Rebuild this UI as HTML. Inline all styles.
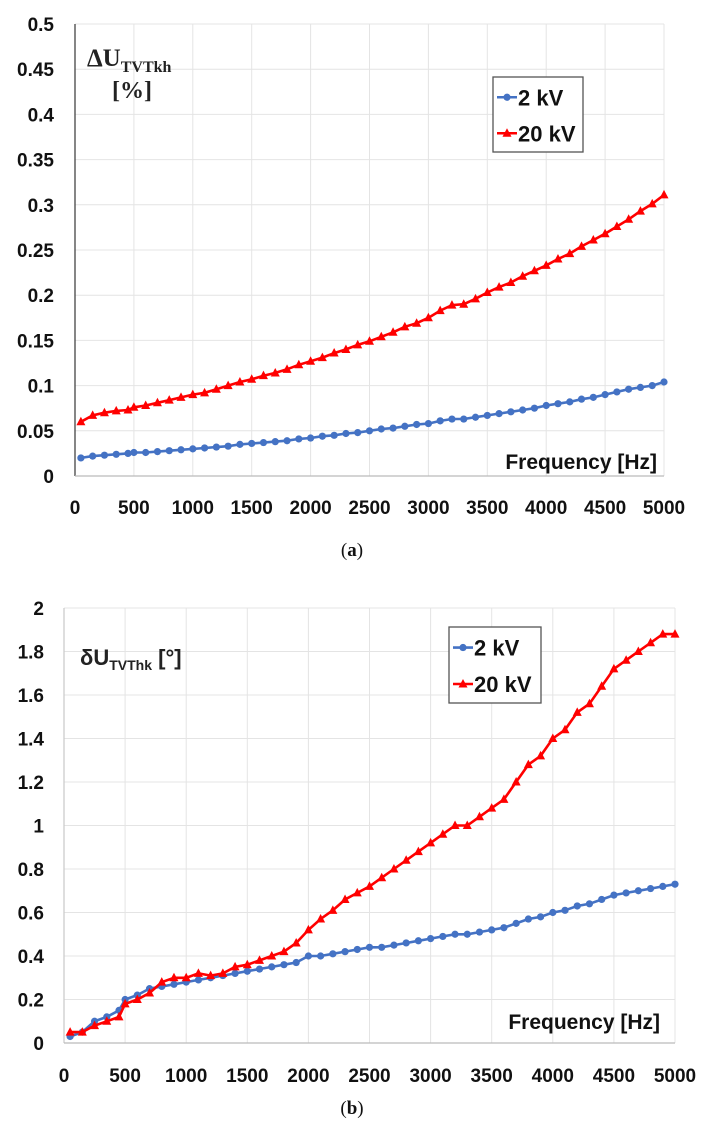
<!DOCTYPE html>
<html><head><meta charset="utf-8">
<style>
html,body{margin:0;padding:0;background:#fff;}
body{width:705px;height:1140px;overflow:hidden;}
svg{display:block;}
</style></head>
<body>
<svg id="chart" width="705" height="1140" xmlns="http://www.w3.org/2000/svg"></svg>
<script>
const freqs = [50,150,250,350,450,500,600,700,800,900,1000,1100,1200,1300,1400,1500,1600,1700,1800,1900,2000,2100,2200,2300,2400,2500,2600,2700,2800,2900,3000,3100,3200,3300,3400,3500,3600,3700,3800,3900,4000,4100,4200,4300,4400,4500,4600,4700,4800,4900,5000];
const aBlue = [0.02,0.022,0.023,0.024,0.025,0.026,0.026,0.027,0.028,0.029,0.030,0.031,0.032,0.033,0.035,0.036,0.037,0.038,0.039,0.041,0.042,0.044,0.045,0.047,0.048,0.050,0.052,0.053,0.055,0.057,0.058,0.061,0.063,0.063,0.065,0.067,0.069,0.071,0.073,0.075,0.078,0.080,0.082,0.085,0.087,0.090,0.093,0.096,0.098,0.1,0.104];
const aRed = [0.06,0.067,0.07,0.072,0.073,0.076,0.078,0.081,0.084,0.087,0.09,0.092,0.096,0.1,0.104,0.107,0.111,0.114,0.118,0.123,0.127,0.131,0.136,0.14,0.145,0.149,0.154,0.159,0.165,0.169,0.175,0.183,0.189,0.19,0.196,0.203,0.209,0.214,0.221,0.227,0.233,0.24,0.246,0.254,0.261,0.268,0.276,0.284,0.293,0.301,0.311];
const bBlue = [0.03,0.05,0.1,0.12,0.15,0.2,0.22,0.25,0.26,0.27,0.28,0.29,0.3,0.31,0.32,0.33,0.34,0.35,0.36,0.37,0.4,0.4,0.41,0.42,0.43,0.44,0.44,0.45,0.46,0.47,0.48,0.49,0.5,0.5,0.51,0.52,0.53,0.55,0.57,0.58,0.6,0.61,0.63,0.64,0.66,0.68,0.69,0.7,0.71,0.72,0.73];
const bRed = [0.05,0.05,0.08,0.1,0.12,0.18,0.2,0.23,0.28,0.3,0.3,0.32,0.31,0.32,0.35,0.36,0.38,0.4,0.42,0.46,0.52,0.57,0.61,0.66,0.69,0.72,0.76,0.8,0.84,0.88,0.92,0.96,1.0,1.0,1.04,1.08,1.12,1.2,1.28,1.32,1.4,1.44,1.52,1.56,1.64,1.72,1.76,1.8,1.84,1.88,1.88];
const xTicks = [0,500,1000,1500,2000,2500,3000,3500,4000,4500,5000];
const aYTicks = [0,0.05,0.1,0.15,0.2,0.25,0.3,0.35,0.4,0.45,0.5];
const aYLabels = ["0","0.05","0.1","0.15","0.2","0.25","0.3","0.35","0.4","0.45","0.5"];
const bYTicks = [0,0.2,0.4,0.6,0.8,1,1.2,1.4,1.6,1.8,2];
const bYLabels = ["0","0.2","0.4","0.6","0.8","1","1.2","1.4","1.6","1.8","2"];
const seriesNames = ["2 kV","20 kV"];

const NS="http://www.w3.org/2000/svg";
const svg=document.getElementById('chart');
function mk(tag,attrs,parent,text){const e=document.createElementNS(NS,tag);for(const k in attrs)e.setAttribute(k,attrs[k]);if(text!==undefined)e.textContent=text;(parent||svg).appendChild(e);return e;}
const FONT='"Liberation Sans", sans-serif';

function drawChart(cfg){
  const g=mk('g',{});
  
  
  const xs=v=>cfg.left+(v-0)/5000*(cfg.right-cfg.left);
  const ys=v=>cfg.bottom-(v/cfg.ymax)*(cfg.bottom-cfg.top);
  cfg.yTicks.forEach((t,i)=>{
    const l=mk('line',{x1:cfg.left,x2:cfg.right,y1:ys(t),y2:ys(t),stroke:'#e4e4e4','stroke-width':1},g);
    
    
    const tx=mk('text',{x:cfg.labelX,y:ys(t)+7,'text-anchor':'end','font-family':FONT,'font-weight':'bold','font-size':19,fill:'#111'},g,cfg.yLabels[i]);
    
    
  });
  xTicks.forEach(t=>{
    const l=mk('line',{x1:xs(t),x2:xs(t),y1:cfg.top,y2:cfg.bottom,stroke:'#e4e4e4','stroke-width':1},g);
    
    
    const tx=mk('text',{x:xs(t),y:cfg.xLabelY,'text-anchor':'middle','font-family':FONT,'font-weight':'bold','font-size':19,fill:'#111'},g,String(t));
    
    
  });
  const ax=mk('line',{x1:cfg.left,x2:cfg.left,y1:cfg.top,y2:cfg.bottom,stroke:cfg.axisColor,'stroke-width':1.3},g);
  
  
  const bx=mk('line',{x1:cfg.left,x2:cfg.right,y1:cfg.bottom,y2:cfg.bottom,stroke:'#bbb','stroke-width':1.3},g);
  
  
  const series=[{vals:cfg.blue,color:'#4472c4',marker:'circle',name:'series-2kv'},{vals:cfg.red,color:'#ff0000',marker:'tri',name:'series-20kv'}];
  series.forEach(s=>{
    const pts=freqs.map((f,i)=>xs(f).toFixed(1)+','+ys(s.vals[i]).toFixed(1)).join(' ');
    const pl=mk('polyline',{points:pts,fill:'none',stroke:s.color,'stroke-width':2.6},g);
    
    
    freqs.forEach((f,i)=>{
      const x=xs(f),y=ys(s.vals[i]);let m;
      if(s.marker==='circle'){m=mk('circle',{cx:x,cy:y,r:3.6,fill:s.color},g);}
      else{m=mk('polygon',{points:`${x},${y-5} ${x-4.5},${y+3.5} ${x+4.5},${y+3.5}`,fill:s.color},g);}
      
      
    });
  });
  const L=cfg.legend;
  const lg=mk('g',{},g);
  
  
  mk('rect',{x:L.x,y:L.y,width:L.w,height:L.h,fill:'#fff',stroke:'#555','stroke-width':1.3},lg);
  seriesNames.forEach((n,i)=>{
    const cy=L.y+L.h*(i===0?0.27:0.75);
    const col=i===0?'#4472c4':'#ff0000';
    mk('line',{x1:L.x+4,x2:L.x+24,y1:cy,y2:cy,stroke:col,'stroke-width':2.6},lg);
    if(i===0)mk('circle',{cx:L.x+14,cy:cy,r:3.6,fill:col},lg);
    else mk('polygon',{points:`${L.x+14},${cy-5} ${L.x+9.5},${cy+3.5} ${L.x+18.5},${cy+3.5}`,fill:col},lg);
    const t=mk('text',{x:L.x+25,y:cy+8,'font-family':FONT,'font-weight':'bold','font-size':22,fill:'#111'},lg,n);
    
    
  });
  const fx=mk('text',{x:cfg.freqX,y:cfg.freqY,'text-anchor':'end','font-family':FONT,'font-weight':'bold','font-size':21,fill:'#111'},g,'Frequency [Hz]');
  
  
  return {g,xs,ys};
}

drawChart({name:'chart-a',left:75,right:664,top:24,bottom:476,ymax:0.5,yTicks:aYTicks,yLabels:aYLabels,labelX:54,xLabelY:514,blue:aBlue,red:aRed,axisColor:'#444',legend:{x:493,y:77,w:90,h:75},freqX:657,freqY:469});
drawChart({name:'chart-b',left:64,right:675,top:608,bottom:1043,ymax:2,yTicks:bYTicks,yLabels:bYLabels,labelX:44,xLabelY:1082,blue:bBlue,red:bRed,axisColor:'#ccc',legend:{x:449,y:627,w:92,h:76},freqX:660,freqY:1029});

const ta=mk('text',{x:87,y:66,'font-family':'"Liberation Serif", serif','font-weight':'bold','font-size':25,fill:'#222'});


mk('tspan',{},ta,'ΔU');
mk('tspan',{dy:6,'font-size':16},ta,'TVTkh');
const ta2=mk('text',{x:112,y:98,'font-family':'"Liberation Serif", serif','font-weight':'bold','font-size':24,fill:'#222'},svg,'[%]');


const tb=mk('text',{x:80,y:665,'font-family':FONT,'font-weight':'bold','font-size':22,fill:'#222'});


mk('tspan',{},tb,'δU');
mk('tspan',{dy:5,'font-size':14},tb,'TVThk');
mk('tspan',{dy:-5,'font-size':22},tb,' [°]');

const ca=mk('text',{x:352,y:556,'text-anchor':'middle','font-family':'"Liberation Serif", serif','font-size':19,fill:'#111'});


mk('tspan',{},ca,'(');
mk('tspan',{'font-weight':'bold'},ca,'a');
mk('tspan',{},ca,')');
const cb=mk('text',{x:352,y:1114,'text-anchor':'middle','font-family':'"Liberation Serif", serif','font-size':19,fill:'#111'});


mk('tspan',{},cb,'(');
mk('tspan',{'font-weight':'bold'},cb,'b');
mk('tspan',{},cb,')');
</script>
</body></html>
